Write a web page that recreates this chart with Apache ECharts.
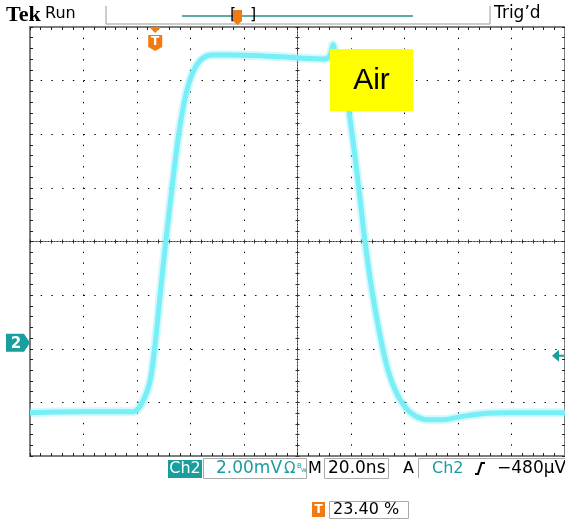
<!DOCTYPE html>
<html>
<head>
<meta charset="utf-8">
<script src="https://cdn.jsdelivr.net/npm/echarts@6/dist/echarts.min.js"></script>
<style>
  html, body { margin: 0; background: #fff; }
  #scope { width: 565px; height: 522px; }
</style>
</head>
<body>
<div id="scope"></div>
<script>
  // screen time (ns, 0 = screen centre) and ch2 voltage (mV, 0 = screen centre)
  const timeNs = [-100, -81.3, -61.5, -59.6, -57.4, -55.1, -53.3, -51.4, -49.2, -46.9, -44.7, -42.4, -40.2, -37.9, -35.3, -32.0,
    -25.2, -14.0, -0.2, 10.3, 12.2, 13.3, 14.4, 15.9, 17.4, 18.9, 20.7, 23.0, 25.2, 27.8, 30.8, 33.8, 36.8, 40.2, 43.9,
    48.8, 54.0, 60.7, 68.2, 79.4, 100];
  const ch2mV = [-6.39, -6.35, -6.35, -6.24, -5.87, -5.20, -3.89, -2.03, 0.03, 2.0, 3.79, 5.17, 6.03, 6.55, 6.85, 6.96,
    6.96, 6.93, 6.85, 6.81, 6.96, 7.34, 6.89, 6.67, 6.03, 5.10, 3.79, 1.93, 0.03, -1.80, -3.48, -4.79, -5.61, -6.17, -6.50,
    -6.65, -6.65, -6.54, -6.43, -6.39, -6.39];
  const timeRange = [-100, 100];   // 10 div x 20 ns
  const voltRange = [-8, 8];       // 8 div x 2 mV
  const divNs = 20;
  const divMV = 2;
  const ch2GroundMV = -3.78;       // channel 2 ground marker
  const trigLevelMV = -0.48;       // relative to ground
  const trigPct = 23.40;
  const noteText = "Air";

  const teal = "#1a9d9d";
  const orange = "#f27a10";
  const chart = echarts.init(document.getElementById("scope"));
  const sub = 5;

  function tickAxis(extra, step, min, max) {
    return Object.assign({
      type: "value", min, max, interval: step,
      axisLabel: { show: false }, splitLine: { show: false },
      axisLine: { onZero: false, lineStyle: { color: "#7d7d7d", width: 2 } },
      axisTick: { inside: true, length: 3, lineStyle: { color: "#222" } }
    }, extra);
  }

  function centreAxis(extra, step, min, max, inside) {
    return Object.assign({
      type: "value", min, max, interval: step,
      axisLabel: { show: false }, splitLine: { show: false },
      axisLine: { onZero: true, lineStyle: { color: "#333", type: [1, 2] } },
      axisTick: { inside, length: 2, lineStyle: { color: "#333" } }
    }, extra);
  }

  const xStep = divNs / sub;
  const yStep = divMV / sub;
  const points = timeNs.map((t, i) => [t, ch2mV[i]]);

  chart.setOption({
    animation: false,
    grid: { left: 30, right: 0, top: 27, bottom: 66 },
    xAxis: [
      tickAxis({ position: "bottom" }, xStep, timeRange[0], timeRange[1]),
      tickAxis({ position: "top" }, xStep, timeRange[0], timeRange[1]),
      {
        type: "value", min: timeRange[0], max: timeRange[1], interval: divNs, position: "bottom",
        axisLine: { show: false }, axisTick: { show: false }, axisLabel: { show: false },
        splitLine: { show: true, lineStyle: { color: "#000", width: 1, type: [1.4, 9.3] } }
      },
      centreAxis({ position: "bottom" }, xStep, timeRange[0], timeRange[1], true),
      centreAxis({ position: "bottom" }, xStep, timeRange[0], timeRange[1], false)
    ],
    yAxis: [
      tickAxis({ position: "left" }, yStep, voltRange[0], voltRange[1]),
      tickAxis({ position: "right" }, yStep, voltRange[0], voltRange[1]),
      {
        type: "value", min: voltRange[0], max: voltRange[1], interval: divMV, position: "left",
        axisLine: { show: false }, axisTick: { show: false }, axisLabel: { show: false },
        splitLine: { show: true, lineStyle: { color: "#000", width: 1, type: [1.4, 9.32] } }
      },
      centreAxis({ position: "left" }, yStep, voltRange[0], voltRange[1], true),
      centreAxis({ position: "left" }, yStep, voltRange[0], voltRange[1], false)
    ],
    series: [
      {
        type: "line", data: points, showSymbol: false, smooth: 0.35,
        lineStyle: { color: "rgba(130,238,248,0.35)", width: 9 }, z: 3
      },
      {
        type: "line", data: points, showSymbol: false, smooth: 0.35,
        lineStyle: { color: "#78eef6", width: 5 }, z: 4
      }
    ]
  });

  const trigX = chart.convertToPixel({ xAxisIndex: 0 }, timeRange[0] + trigPct / 100 * (timeRange[1] - timeRange[0]));
  const groundY = chart.convertToPixel({ yAxisIndex: 0 }, ch2GroundMV);
  const levelY = chart.convertToPixel({ yAxisIndex: 0 }, ch2GroundMV + trigLevelMV);
  const uiFont = '"DejaVu Sans", sans-serif';

  function txt(x, y, text, size, fill, extra) {
    return { type: "text", z: 20, style: Object.assign({ x, y, text, fill, font: `${size}px ${uiFont}`, verticalAlign: "middle" }, extra || {}) };
  }
  function box(x, y, w, h, style) {
    return { type: "rect", z: 19, shape: { x, y, width: w, height: h }, style };
  }
  function tBadge(cx, top) {
    return [
      { type: "polygon", z: 20, shape: { points: [[cx - 7, top], [cx + 7, top], [cx + 7, top + 12], [cx, top + 16], [cx - 7, top + 12]] }, style: { fill: orange } },
      txt(cx, top + 7, "T", 12, "#fff", { textAlign: "center", font: `bold 12px ${uiFont}` })
    ];
  }

  chart.setOption({
    graphic: [
      // header
      txt(6, 15, "Tek", 22, "#000", { font: 'bold 22px "Liberation Serif", serif' }),
      txt(45, 14, "Run", 16, "#000"),
      { type: "polyline", z: 19, shape: { points: [[106, 6], [106, 24], [490, 24], [490, 6]] }, style: { stroke: "#9a9a9a", fill: null } },
      { type: "line", z: 19, shape: { x1: 182, y1: 16, x2: 413, y2: 16 }, style: { stroke: "#5fa9a9", lineWidth: 2 } },
      txt(230, 15, "[", 16, "#000"),
      txt(250, 15, "]", 16, "#000"),
      { type: "polygon", z: 21, shape: { points: [[233, 10], [242, 10], [242, 21], [237.5, 25], [233, 21]] }, style: { fill: orange } },
      txt(237.5, 17, "T", 10, "#fff", { textAlign: "center", font: `bold 10px ${uiFont}` }),
      txt(494, 14, "Trig\u2019d", 17, "#000"),
      // trigger position marker
      { type: "polygon", z: 20, shape: { points: [[trigX - 6, 27], [trigX + 6, 27], [trigX, 33]] }, style: { fill: orange } },
      ...tBadge(trigX, 35),
      // channel ground marker and trigger level arrow
      { type: "polygon", z: 20, shape: { points: [[6, groundY - 9], [24, groundY - 9], [30, groundY], [24, groundY + 9], [6, groundY + 9]] }, style: { fill: teal } },
      txt(16, groundY + 1, "2", 15, "#fff", { textAlign: "center", font: `bold 15px ${uiFont}` }),
      { type: "polygon", z: 20, shape: { points: [[552, levelY], [559, levelY - 6], [559, levelY + 6]] }, style: { fill: teal } },
      { type: "line", z: 20, shape: { x1: 558, y1: levelY, x2: 564, y2: levelY }, style: { stroke: teal, lineWidth: 2 } },
      // annotation
      box(330, 49, 83, 62, { fill: "#ffff00" }),
      txt(371.5, 81, noteText, 30, "#000", { textAlign: "center", font: '30px "Liberation Sans", Arial, sans-serif' }),
      // status line
      box(168, 460, 34, 18, { fill: teal }),
      txt(185, 469, "Ch2", 16, "#fff", { textAlign: "center" }),
      box(203.5, 458.5, 103, 20, { fill: null, stroke: "#aaa" }),
      txt(216, 469, `${divMV.toFixed(2)}mV`, 17, teal),
      txt(284, 469, "\u03a9", 15, teal),
      txt(297, 466, "B", 7, teal), txt(301, 470, "w", 7, teal),
      txt(308, 469, "M", 16, "#000"),
      box(324.5, 458.5, 64, 20, { fill: null, stroke: "#aaa" }),
      txt(328, 469, `${divNs.toFixed(1)}ns`, 17, "#000"),
      txt(403, 469, "A", 16, "#000"),
      { type: "polyline", z: 19, shape: { points: [[418.5, 478], [418.5, 458.5], [565, 458.5]] }, style: { stroke: "#aaa", fill: null } },
      txt(432, 469, "Ch2", 16, teal),
      { type: "polyline", z: 20, shape: { points: [[475, 474], [478, 474], [481.5, 463], [485, 463]] }, style: { stroke: "#000", lineWidth: 2, fill: null } },
      txt(497, 469, `\u2212${Math.round(-trigLevelMV * 1000)}\u00b5V`, 17, "#000"),
      box(312, 502, 13, 15, { fill: orange }),
      txt(318.5, 510, "T", 12, "#fff", { textAlign: "center", font: `bold 12px ${uiFont}` }),
      box(329.5, 501.5, 79, 17, { fill: null, stroke: "#aaa" }),
      txt(333, 510, `${trigPct.toFixed(2)} %`, 16, "#000")
    ]
  });
</script>
</body>
</html>
